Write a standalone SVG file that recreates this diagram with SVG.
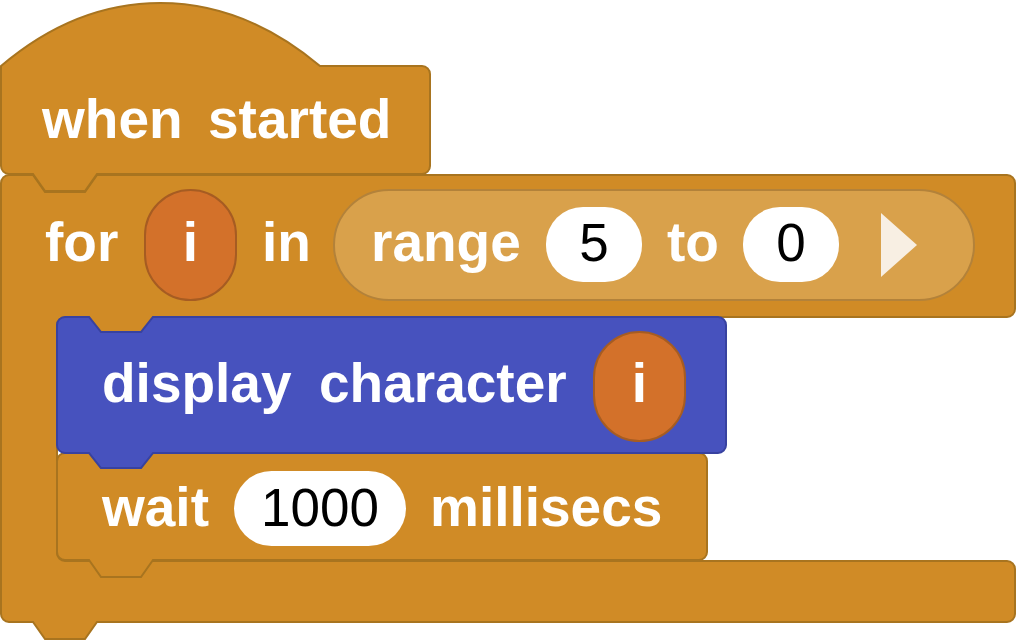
<svg xmlns="http://www.w3.org/2000/svg" width="1016" height="640" viewBox="0 0 1016 640">
  <style>
    .blk { fill: #D08B26; stroke: #A8741F; stroke-width: 2; }
    .blue { fill: #4752BE; stroke: #3842A0; stroke-width: 2; }
    .var { fill: #D3712A; stroke: #A65C22; stroke-width: 2; }
    .rng { fill: #D9A14B; stroke: #B3823A; stroke-width: 2; }
    .pill { fill: #FFFFFF; }
    .lbl { font-family: "Liberation Sans", Arial, sans-serif; font-weight: bold; font-size: 55px; fill: #FFFFFF; }
    .num { font-family: "Liberation Sans", Arial, sans-serif; font-size: 53px; fill: #000000; text-anchor: middle; }
    .mid { text-anchor: middle; }
  </style>
  <rect width="1016" height="640" fill="#FFFFFF"/>
  <g id="connectors"></g>
  <g id="for-block">
    <path class="blk" d="M1,183 a8,8 0 0 1 8,-8 H33 l12,17 H85 l12,-17 H1007 a8,8 0 0 1 8,8 V309 a8,8 0 0 1 -8,8 H153 l-12,15 H101 l-12,-15 H65 a8,8 0 0 0 -8,8 V553 a8,8 0 0 0 8,8 H1007 a8,8 0 0 1 8,8 V614 a8,8 0 0 1 -8,8 H97 l-12,17 H45 l-12,-17 H9 a8,8 0 0 1 -8,-8 Z"/>
    <text class="lbl" x="45" y="261">for</text>
    <g id="for-var">
      <rect class="var" x="145" y="190" width="91" height="110" rx="45.5" ry="45.5"/>
      <text class="lbl mid" x="190.5" y="261">i</text>
    </g>
    <text class="lbl" x="262" y="261">in</text>
    <g id="range-block">
      <rect class="rng" x="334" y="190" width="640" height="110" rx="55" ry="55"/>
      <text class="lbl" x="371" y="261">range</text>
      <rect class="pill" x="546" y="207" width="96" height="75" rx="37" ry="37"/>
      <text class="num" x="594" y="261">5</text>
      <text class="lbl" x="667" y="261">to</text>
      <rect class="pill" x="743" y="207" width="96" height="75" rx="37" ry="37"/>
      <text class="num" x="791" y="261">0</text>
      <polygon points="881,213 917,245 881,277" fill="#F8EFE3"/>
    </g>
  </g>
  <g id="hat-block">
    <path class="blk" d="M1,66 C100,-18 220,-18 320,66 H422 a8,8 0 0 1 8,8 V166 a8,8 0 0 1 -8,8 H97 l-12,17 H45 l-12,-17 H9 a8,8 0 0 1 -8,-8 Z"/>
    <text class="lbl" x="42" y="138">when</text>
    <text class="lbl" x="208" y="138">started</text>
  </g>
  <g id="wait-block">
    <path class="blk" d="M57,461 a8,8 0 0 1 8,-8 H89 l12,15 H141 l12,-15 H699 a8,8 0 0 1 8,8 V552 a8,8 0 0 1 -8,8 H153 l-12,17 H101 l-12,-17 H65 a8,8 0 0 1 -8,-8 Z"/>
    <text class="lbl" x="102" y="526">wait</text>
    <rect class="pill" x="234" y="471" width="172" height="75" rx="37.5" ry="37.5"/>
    <text class="num" x="320" y="526">1000</text>
    <text class="lbl" x="430" y="526">millisecs</text>
  </g>
  <g id="display-block">
    <path class="blue" d="M57,325 a8,8 0 0 1 8,-8 H89 l12,15 H141 l12,-15 H718 a8,8 0 0 1 8,8 V445 a8,8 0 0 1 -8,8 H153 l-12,15 H101 l-12,-15 H65 a8,8 0 0 1 -8,-8 Z"/>
    <text class="lbl" x="102" y="402">display</text>
    <text class="lbl" x="319" y="402">character</text>
    <g id="display-var">
      <rect class="var" x="594" y="332" width="91" height="109" rx="45.5" ry="45.5"/>
      <text class="lbl mid" x="639.5" y="402">i</text>
    </g>
  </g>
</svg>
